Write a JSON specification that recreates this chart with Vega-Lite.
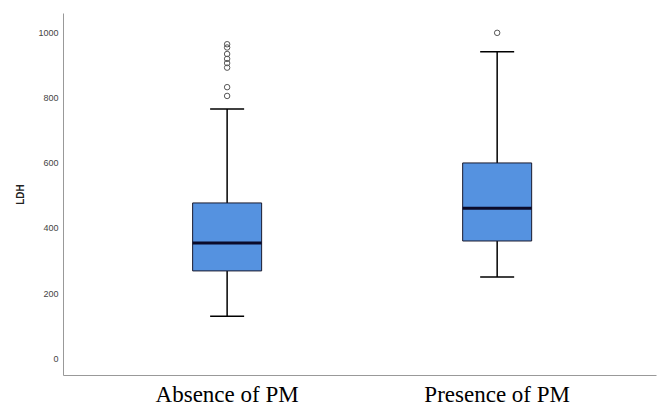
{
  "$schema": "https://vega.github.io/schema/vega-lite/v6.json",
  "width": 593,
  "height": 362,
  "autosize": {"type": "none"},
  "padding": {"left": 63, "top": 13, "right": 5, "bottom": 41},
  "background": "white",
  "config": {"view": {"stroke": null}},
  "datasets": {
    "stats": [
      {"group": "Absence of PM", "lower": 129, "q1": 268, "median": 354, "q3": 477, "upper": 766},
      {"group": "Presence of PM", "lower": 249, "q1": 360, "median": 461, "q3": 600, "upper": 942}
    ],
    "outliers": [
      {"group": "Absence of PM", "value": 965},
      {"group": "Absence of PM", "value": 955},
      {"group": "Absence of PM", "value": 935},
      {"group": "Absence of PM", "value": 920},
      {"group": "Absence of PM", "value": 907},
      {"group": "Absence of PM", "value": 893},
      {"group": "Absence of PM", "value": 833},
      {"group": "Absence of PM", "value": 806},
      {"group": "Presence of PM", "value": 1000}
    ]
  },
  "encoding": {
    "x": {
      "field": "group",
      "type": "nominal",
      "sort": ["Absence of PM", "Presence of PM"],
      "scale": {"paddingInner": 0, "paddingOuter": 0.098, "align": 0.55},
      "axis": {
        "title": null,
        "labelAngle": 0,
        "labelFont": "Liberation Serif",
        "labelFontSize": 23,
        "labelColor": "#000",
        "ticks": false,
        "labelPadding": 8,
        "domainColor": "#999",
        "domainWidth": 1
      }
    }
  },
  "layer": [
    {
      "data": {"name": "stats"},
      "mark": {"type": "rule", "color": "#000", "strokeWidth": 1.5},
      "encoding": {
        "y": {
          "field": "lower",
          "type": "quantitative",
          "scale": {"domain": [-52, 1061], "nice": false, "zero": false},
          "axis": {
            "title": "LDH",
            "values": [0, 200, 400, 600, 800, 1000],
            "format": "d",
            "grid": false,
            "ticks": false,
            "labelPadding": 5,
            "labelFont": "Liberation Sans",
            "labelFontSize": 9,
            "labelColor": "#444",
            "titleFont": "Liberation Sans",
            "titleFontSize": 10,
            "titleFontWeight": "bold",
            "titleColor": "#222",
            "titlePadding": 12,
            "domainColor": "#999",
            "domainWidth": 1
          }
        },
        "y2": {"field": "upper"}
      }
    },
    {
      "data": {"name": "stats"},
      "mark": {"type": "bar", "size": 69, "fill": "#5592E0", "stroke": "#1a1a2e", "strokeWidth": 1},
      "encoding": {
        "y": {"field": "q1", "type": "quantitative"},
        "y2": {"field": "q3"}
      }
    },
    {
      "data": {"name": "stats"},
      "mark": {"type": "tick", "size": 69, "thickness": 3, "color": "#0b0b2a", "opacity": 1},
      "encoding": {
        "y": {"field": "median", "type": "quantitative"}
      }
    },
    {
      "data": {"name": "stats"},
      "mark": {"type": "tick", "size": 34, "thickness": 1.5, "color": "#000", "opacity": 1},
      "encoding": {
        "y": {"field": "lower", "type": "quantitative"}
      }
    },
    {
      "data": {"name": "stats"},
      "mark": {"type": "tick", "size": 34, "thickness": 1.5, "color": "#000", "opacity": 1},
      "encoding": {
        "y": {"field": "upper", "type": "quantitative"}
      }
    },
    {
      "data": {"name": "outliers"},
      "mark": {"type": "point", "filled": false, "size": 30, "stroke": "#555", "strokeWidth": 1, "opacity": 1},
      "encoding": {
        "y": {"field": "value", "type": "quantitative"}
      }
    }
  ]
}
